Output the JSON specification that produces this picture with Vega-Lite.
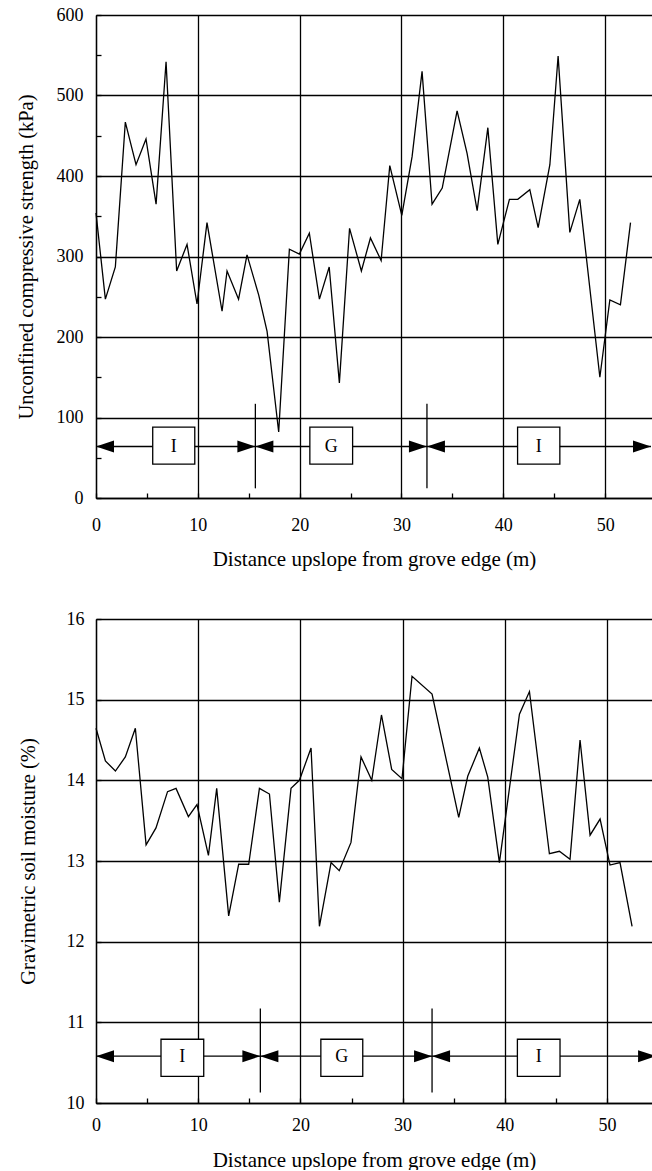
{
  "$schema": "https://vega.github.io/schema/vega-lite/v6.json",
  "background": "white",
  "padding": {"left": 16, "top": 6, "right": 0, "bottom": 0},
  "spacing": 41,
  "config": {
    "font": "Liberation Serif",
    "view": {"stroke": null},
    "axis": {
      "labelFont": "Liberation Serif", "titleFont": "Liberation Serif",
      "labelFontSize": 18, "titleFontSize": 20.5, "titleFontWeight": "normal",
      "labelColor": "black", "titleColor": "black",
      "domainColor": "black", "domainWidth": 1.3,
      "tickColor": "black", "tickWidth": 1.3, "tickSize": -5,
      "gridColor": "black", "gridWidth": 1.3,
      "labelFlush": false, "labelOverlap": false, "labelBound": false
    },
    "axisX": {"titleFontSize": 21}
  },
  "datasets": {
    "strength": [
      {"distance": 0, "kPa": 354}, {"distance": 0.92, "kPa": 247}, {"distance": 1.9, "kPa": 287},
      {"distance": 2.88, "kPa": 467}, {"distance": 3.93, "kPa": 414}, {"distance": 4.91, "kPa": 446},
      {"distance": 5.9, "kPa": 365}, {"distance": 6.88, "kPa": 542}, {"distance": 7.92, "kPa": 282},
      {"distance": 8.94, "kPa": 315}, {"distance": 9.92, "kPa": 241}, {"distance": 10.9, "kPa": 342},
      {"distance": 12.38, "kPa": 232}, {"distance": 12.87, "kPa": 282}, {"distance": 14.0, "kPa": 247},
      {"distance": 14.83, "kPa": 302}, {"distance": 15.98, "kPa": 252}, {"distance": 16.8, "kPa": 207},
      {"distance": 17.94, "kPa": 82}, {"distance": 18.99, "kPa": 309}, {"distance": 19.97, "kPa": 303},
      {"distance": 20.95, "kPa": 329}, {"distance": 21.94, "kPa": 247}, {"distance": 22.9, "kPa": 287},
      {"distance": 23.9, "kPa": 143}, {"distance": 24.9, "kPa": 335}, {"distance": 26.06, "kPa": 282},
      {"distance": 26.95, "kPa": 323}, {"distance": 28.0, "kPa": 295}, {"distance": 28.85, "kPa": 413},
      {"distance": 30.03, "kPa": 351}, {"distance": 31.04, "kPa": 424}, {"distance": 32.02, "kPa": 530},
      {"distance": 33.0, "kPa": 365}, {"distance": 34.0, "kPa": 385}, {"distance": 35.46, "kPa": 481},
      {"distance": 36.44, "kPa": 428}, {"distance": 37.43, "kPa": 357}, {"distance": 38.48, "kPa": 460},
      {"distance": 39.46, "kPa": 315}, {"distance": 40.6, "kPa": 371}, {"distance": 41.42, "kPa": 371},
      {"distance": 42.6, "kPa": 383}, {"distance": 43.42, "kPa": 336}, {"distance": 44.57, "kPa": 414},
      {"distance": 45.38, "kPa": 549}, {"distance": 46.53, "kPa": 330}, {"distance": 47.51, "kPa": 371},
      {"distance": 49.48, "kPa": 150}, {"distance": 50.46, "kPa": 246}, {"distance": 51.5, "kPa": 240},
      {"distance": 52.49, "kPa": 342}
    ],
    "moisture": [
      {"distance": 0, "pct": 14.645}, {"distance": 0.92, "pct": 14.24}, {"distance": 1.9, "pct": 14.115},
      {"distance": 2.87, "pct": 14.29}, {"distance": 3.85, "pct": 14.645}, {"distance": 4.9, "pct": 13.2},
      {"distance": 5.87, "pct": 13.41}, {"distance": 7.0, "pct": 13.86}, {"distance": 7.83, "pct": 13.9},
      {"distance": 9.04, "pct": 13.55}, {"distance": 9.88, "pct": 13.7}, {"distance": 11.0, "pct": 13.07},
      {"distance": 11.81, "pct": 13.9}, {"distance": 12.98, "pct": 12.32}, {"distance": 13.96, "pct": 12.96},
      {"distance": 14.94, "pct": 12.96}, {"distance": 15.99, "pct": 13.9}, {"distance": 16.97, "pct": 13.83},
      {"distance": 17.94, "pct": 12.49}, {"distance": 19.08, "pct": 13.9}, {"distance": 19.9, "pct": 14.0},
      {"distance": 21.04, "pct": 14.4}, {"distance": 21.86, "pct": 12.19}, {"distance": 23.0, "pct": 12.98},
      {"distance": 23.8, "pct": 12.88}, {"distance": 24.95, "pct": 13.23}, {"distance": 25.93, "pct": 14.29},
      {"distance": 26.98, "pct": 14.0}, {"distance": 27.93, "pct": 14.81}, {"distance": 28.93, "pct": 14.136},
      {"distance": 29.94, "pct": 14.02}, {"distance": 30.92, "pct": 15.29}, {"distance": 32.88, "pct": 15.07},
      {"distance": 35.49, "pct": 13.54}, {"distance": 36.37, "pct": 14.05}, {"distance": 37.51, "pct": 14.4},
      {"distance": 38.33, "pct": 14.04}, {"distance": 39.47, "pct": 12.98}, {"distance": 41.43, "pct": 14.82},
      {"distance": 42.41, "pct": 15.1}, {"distance": 44.36, "pct": 13.09}, {"distance": 45.34, "pct": 13.12},
      {"distance": 46.38, "pct": 13.02}, {"distance": 47.36, "pct": 14.5}, {"distance": 48.34, "pct": 13.32},
      {"distance": 49.32, "pct": 13.52}, {"distance": 50.29, "pct": 12.95}, {"distance": 51.27, "pct": 12.98},
      {"distance": 52.45, "pct": 12.19}
    ],
    "zonesTop": [
      {"zone": "I", "from": 0, "to": 15.65, "boxFrom": 5.57, "boxTo": 9.7, "mid": 7.63},
      {"zone": "G", "from": 15.65, "to": 32.5, "boxFrom": 21.0, "boxTo": 25.2, "mid": 23.1},
      {"zone": "I", "from": 32.5, "to": 54.5, "boxFrom": 41.4, "boxTo": 45.55, "mid": 43.47}
    ],
    "edgesTop": [{"edge": 15.65}, {"edge": 32.5}],
    "zonesBottom": [
      {"zone": "I", "from": 0, "to": 16.08, "boxFrom": 6.36, "boxTo": 10.54, "mid": 8.45},
      {"zone": "G", "from": 16.08, "to": 32.88, "boxFrom": 22.0, "boxTo": 26.1, "mid": 24.05},
      {"zone": "I", "from": 32.88, "to": 54.8, "boxFrom": 41.23, "boxTo": 45.4, "mid": 43.31}
    ],
    "edgesBottom": [{"edge": 16.08}, {"edge": 32.88}]
  },
  "vconcat": [
    {
      "width": 556,
      "height": 483,
      "layer": [
        {
          "data": {"name": "strength"},
          "mark": {"type": "line", "color": "black", "strokeWidth": 1.3},
          "encoding": {
            "x": {
              "field": "distance", "type": "quantitative",
              "scale": {"domain": [0, 54.6], "nice": false, "zero": false},
              "axis": {
                "title": "Distance upslope from grove edge (m)",
                "values": [0, 5, 10, 15, 20, 25, 30, 35, 40, 45, 50],
                "labelExpr": "datum.value % 10 === 0 ? datum.label : ''",
                "grid": true,
                "gridOpacity": {"condition": {"test": "datum.value % 10 === 0", "value": 1}, "value": 0},
                "labelPadding": 23, "titlePadding": 14
              }
            },
            "y": {
              "field": "kPa", "type": "quantitative",
              "scale": {"domain": [0, 600], "nice": false},
              "axis": {
                "title": "Unconfined compressive strength (kPa)",
                "values": [0, 50, 100, 150, 200, 250, 300, 350, 400, 450, 500, 550, 600],
                "labelExpr": "datum.value % 100 === 0 ? datum.label : ''",
                "grid": true,
                "gridOpacity": {"condition": {"test": "datum.value % 100 === 0", "value": 1}, "value": 0},
                "labelPadding": 18, "titlePadding": 20
              }
            }
          }
        },
        {
          "data": {"name": "zonesTop"},
          "mark": {"type": "rule", "color": "black", "strokeWidth": 1.3, "clip": true},
          "encoding": {
            "x": {"field": "from", "type": "quantitative"},
            "x2": {"field": "to"},
            "y": {"datum": 64, "type": "quantitative"}
          }
        },
        {
          "data": {"name": "edgesTop"},
          "mark": {"type": "rule", "color": "black", "strokeWidth": 1.3},
          "encoding": {
            "x": {"field": "edge", "type": "quantitative"},
            "y": {"datum": 117, "type": "quantitative"},
            "y2": {"datum": 12}
          }
        },
        {
          "data": {"name": "zonesTop"},
          "mark": {"type": "point", "shape": "M0,0L2,-0.667L2,0.667Z", "size": 324, "filled": true, "color": "black", "opacity": 1, "strokeWidth": 0, "clip": true},
          "encoding": {
            "x": {"field": "from", "type": "quantitative"},
            "y": {"datum": 64, "type": "quantitative"}
          }
        },
        {
          "data": {"name": "zonesTop"},
          "mark": {"type": "point", "shape": "M0,0L-2,-0.667L-2,0.667Z", "size": 324, "filled": true, "color": "black", "opacity": 1, "strokeWidth": 0, "clip": true},
          "encoding": {
            "x": {"field": "to", "type": "quantitative"},
            "y": {"datum": 64, "type": "quantitative"}
          }
        },
        {
          "data": {"name": "zonesTop"},
          "mark": {"type": "rect", "fill": "white", "stroke": "black", "strokeWidth": 1.3},
          "encoding": {
            "x": {"field": "boxFrom", "type": "quantitative"},
            "x2": {"field": "boxTo"},
            "y": {"datum": 88, "type": "quantitative"},
            "y2": {"datum": 42}
          }
        },
        {
          "data": {"name": "zonesTop"},
          "mark": {"type": "text", "font": "Liberation Serif", "fontSize": 18, "color": "black", "align": "center", "baseline": "middle"},
          "encoding": {
            "x": {"field": "mid", "type": "quantitative"},
            "y": {"datum": 63, "type": "quantitative"},
            "text": {"field": "zone"}
          }
        }
      ]
    },
    {
      "width": 556,
      "height": 484,
      "layer": [
        {
          "data": {"name": "moisture"},
          "mark": {"type": "line", "color": "black", "strokeWidth": 1.3},
          "encoding": {
            "x": {
              "field": "distance", "type": "quantitative",
              "scale": {"domain": [0, 54.4], "nice": false, "zero": false},
              "axis": {
                "title": "Distance upslope from grove edge (m)",
                "values": [0, 5, 10, 15, 20, 25, 30, 35, 40, 45, 50],
                "labelExpr": "datum.value % 10 === 0 ? datum.label : ''",
                "grid": true,
                "gridOpacity": {"condition": {"test": "datum.value % 10 === 0", "value": 1}, "value": 0},
                "labelPadding": 18, "titlePadding": 15
              }
            },
            "y": {
              "field": "pct", "type": "quantitative",
              "scale": {"domain": [10, 16], "nice": false, "zero": false},
              "axis": {
                "title": "Gravimetric soil moisture (%)",
                "format": "d",
                "values": [10, 10.5, 11, 11.5, 12, 12.5, 13, 13.5, 14, 14.5, 15, 15.5, 16],
                "labelExpr": "datum.value % 1 === 0 ? datum.label : ''",
                "grid": true,
                "gridOpacity": {"condition": {"test": "datum.value % 1 === 0", "value": 1}, "value": 0},
                "labelPadding": 17, "titlePadding": 28
              }
            }
          }
        },
        {
          "data": {"name": "zonesBottom"},
          "mark": {"type": "rule", "color": "black", "strokeWidth": 1.3, "clip": true},
          "encoding": {
            "x": {"field": "from", "type": "quantitative"},
            "x2": {"field": "to"},
            "y": {"datum": 10.58, "type": "quantitative"}
          }
        },
        {
          "data": {"name": "edgesBottom"},
          "mark": {"type": "rule", "color": "black", "strokeWidth": 1.3},
          "encoding": {
            "x": {"field": "edge", "type": "quantitative"},
            "y": {"datum": 11.17, "type": "quantitative"},
            "y2": {"datum": 10.13}
          }
        },
        {
          "data": {"name": "zonesBottom"},
          "mark": {"type": "point", "shape": "M0,0L2,-0.667L2,0.667Z", "size": 324, "filled": true, "color": "black", "opacity": 1, "strokeWidth": 0, "clip": true},
          "encoding": {
            "x": {"field": "from", "type": "quantitative"},
            "y": {"datum": 10.58, "type": "quantitative"}
          }
        },
        {
          "data": {"name": "zonesBottom"},
          "mark": {"type": "point", "shape": "M0,0L-2,-0.667L-2,0.667Z", "size": 324, "filled": true, "color": "black", "opacity": 1, "strokeWidth": 0, "clip": true},
          "encoding": {
            "x": {"field": "to", "type": "quantitative"},
            "y": {"datum": 10.58, "type": "quantitative"}
          }
        },
        {
          "data": {"name": "zonesBottom"},
          "mark": {"type": "rect", "fill": "white", "stroke": "black", "strokeWidth": 1.3},
          "encoding": {
            "x": {"field": "boxFrom", "type": "quantitative"},
            "x2": {"field": "boxTo"},
            "y": {"datum": 10.79, "type": "quantitative"},
            "y2": {"datum": 10.33}
          }
        },
        {
          "data": {"name": "zonesBottom"},
          "mark": {"type": "text", "font": "Liberation Serif", "fontSize": 18, "color": "black", "align": "center", "baseline": "middle"},
          "encoding": {
            "x": {"field": "mid", "type": "quantitative"},
            "y": {"datum": 10.57, "type": "quantitative"},
            "text": {"field": "zone"}
          }
        }
      ]
    }
  ]
}
